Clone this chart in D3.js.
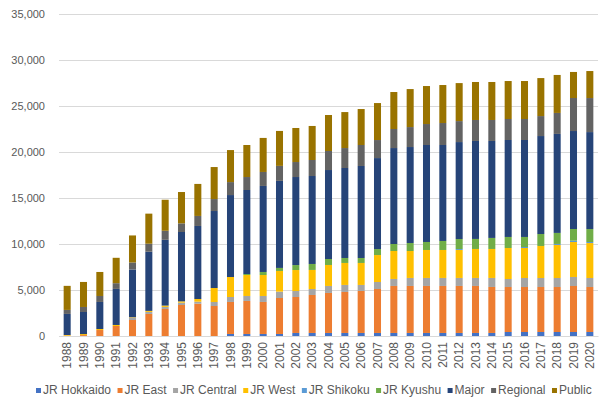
<!DOCTYPE html>
<html><head><meta charset="utf-8">
<script src="https://cdn.jsdelivr.net/npm/d3@7"></script>
<style>body{margin:0;background:#fff;}svg{display:block;font-family:"Liberation Sans",Arial,sans-serif;}</style>
</head><body>
<svg id="chart" width="612" height="408"></svg>
<script>
const years = d3.range(1988, 2021).map(String);
const seriesNames = ["JR Hokkaido","JR East","JR Central","JR West","JR Shikoku","JR Kyushu","Major","Regional","Public"];
const colors = ["#4472C4","#ED7D31","#A5A5A5","#FFC000","#5B9BD5","#70AD47","#264478","#636363","#997300"];
const yTicks = [0,5000,10000,15000,20000,25000,30000,35000];

const jrHokkaido = [0,0,0,0,0,0,0,0,0,0,220,220,220,220,330,330,330,330,330,330,330,330,330,330,330,330,330,435,435,435,435,435,435];
const jrEast = [40,100,650,1090,1740,2400,2940,3370,3510,3260,3480,3590,3480,3910,3910,4130,4350,4460,4570,4780,5110,5110,5110,5110,5110,5110,5000,4890,4890,4890,4890,5000,4890];
const jrCentral = [0,0,0,0,250,220,220,250,220,435,540,540,650,690,650,650,760,760,650,760,760,870,870,870,870,870,980,870,980,980,980,980,980];
const jrWest = [70,110,110,110,50,110,145,145,290,1520,2170,2280,2280,2250,2280,2070,2280,2390,2390,2930,3040,2930,3040,3040,3040,3150,3150,3370,3260,3480,3590,3800,3800];
const jrShikoku = [0,0,0,0,0,0,0,0,0,0,0,0,0,0,0,0,0,0,0,0,0,0,0,0,100,0,0,0,110,0,110,145,110];
const jrKyushu = [0,0,0,0,0,0,0,0,0,0,0,110,330,330,540,650,650,540,540,650,760,870,870,980,1090,1090,1200,1200,1090,1300,1200,1270,1410];
const major = [2290,2400,2940,3920,5190,6430,7150,7540,7940,8370,8910,9130,9350,9460,9570,9560,9670,9780,10000,9890,10430,10430,10540,10430,10540,10650,10540,10540,10540,10650,10760,10650,10540];
const regional = [435,545,650,620,760,870,980,940,1090,1300,1410,1410,1520,1630,1630,1740,2070,2170,2280,1960,2070,2170,2280,2390,2280,2280,2280,2280,2280,2170,2280,3590,3700];
const publicOps = [2615,2720,2610,2760,2940,3270,3375,3405,3480,3480,3480,3480,3700,3800,3700,3700,3910,3910,3910,4020,4020,4130,4130,4130,4130,4130,4130,4130,4130,4130,4130,2830,2935];

const seriesValues = [jrHokkaido,jrEast,jrCentral,jrWest,jrShikoku,jrKyushu,major,regional,publicOps];
const table = years.map((yr,i)=>{const o={year:yr}; seriesNames.forEach((s,k)=>o[s]=seriesValues[k][i]); return o;});

const svg = d3.select("#chart");
const plotLeft = 59, plotRight = 598, plotTop = 14, plotBottom = 336;
const x = d3.scaleBand().domain(years).range([plotLeft,plotRight]).paddingInner(0.57).paddingOuter(0.285);
const y = d3.scaleLinear().domain([0,35000]).range([plotBottom,plotTop]);
const textColor = "#595959";

// gridlines
svg.append("g").selectAll("line").data(yTicks).join("line")
  .attr("x1",plotLeft).attr("x2",plotRight)
  .attr("y1",d=>Math.round(y(d))+0.5).attr("y2",d=>Math.round(y(d))+0.5)
  .attr("stroke","#D9D9D9").attr("stroke-width",1);

// y axis labels
const yAxis = d3.axisLeft(y).tickValues(yTicks).tickSize(0).tickPadding(0).tickFormat(d3.format(","));
const gy = svg.append("g").attr("transform",`translate(45,0)`).call(yAxis);
gy.select(".domain").remove();
gy.selectAll("text").attr("fill",textColor).style("font-size","11px").attr("dy","0.35em");

// bars
const stack = d3.stack().keys(seriesNames)(table);
svg.append("g").selectAll("g").data(stack).join("g")
  .attr("fill",(d,i)=>colors[i])
  .selectAll("rect").data(d=>d).join("rect")
  .attr("x",d=>x(d.data.year)).attr("width",x.bandwidth())
  .attr("y",d=>y(d[1])).attr("height",d=>Math.max(0,y(d[0])-y(d[1])));

// x axis
const xAxis = d3.axisBottom(x).tickSize(0).tickPadding(0);
const gx = svg.append("g").attr("transform",`translate(0,${plotBottom})`).call(xAxis);
gx.select(".domain").attr("stroke","#D9D9D9");
gx.selectAll("text").attr("fill",textColor).style("font-size","12px")
  .attr("text-anchor","end").attr("dy",null).attr("y",0)
  .attr("transform","translate(4.2,6) rotate(-90)");

// legend
const lg = svg.append("g");
let cx = 0;
seriesNames.forEach((s,i)=>{
  const g = lg.append("g");
  g.append("rect").attr("x",0).attr("y",-5).attr("width",5).attr("height",5).attr("fill",colors[i]);
  const t = g.append("text").attr("x",7).attr("y",0).attr("dy","0.05em").attr("fill",textColor).style("font-size","12px").text(s);
  const w = 7 + t.node().getComputedTextLength();
  g.attr("transform",`translate(${cx},0)`);
  cx += w + 6.5;
});
lg.attr("transform",`translate(36,393)`);
</script>
</body></html>
